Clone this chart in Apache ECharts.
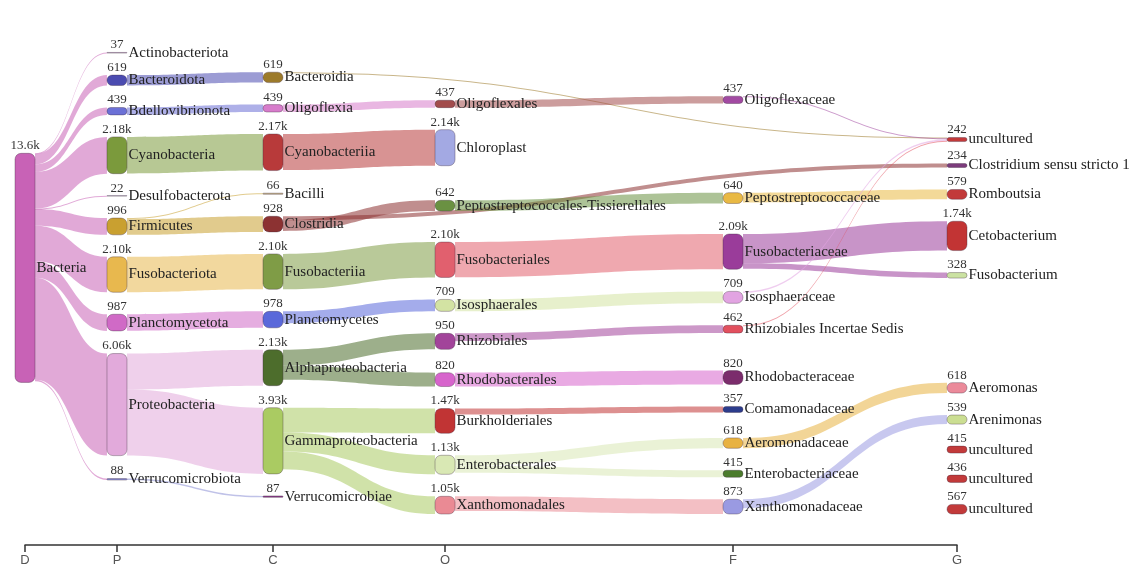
<!DOCTYPE html>
<html>
<head>
<meta charset="utf-8">
<script src="https://cdn.jsdelivr.net/npm/echarts@6/dist/echarts.min.js"></script>
<style>
  html, body { margin: 0; padding: 0; background: #ffffff; }
  #chart { width: 1143px; height: 573px; }
</style>
</head>
<body>
<div id="chart"></div>
<script>
// Taxonomic ranks (columns)
const levels = ['D', 'P', 'C', 'O', 'F', 'G'];

// Nodes, column by column, top to bottom
const nodeNames = [
  'Bacteria',
  'Actinobacteriota', 'Bacteroidota', 'Bdellovibrionota', 'Cyanobacteria', 'Desulfobacterota',
  'Firmicutes', 'Fusobacteriota', 'Planctomycetota', 'Proteobacteria', 'Verrucomicrobiota',
  'Bacteroidia', 'Oligoflexia', 'Cyanobacteriia', 'Bacilli', 'Clostridia',
  'Fusobacteriia', 'Planctomycetes', 'Alphaproteobacteria', 'Gammaproteobacteria', 'Verrucomicrobiae',
  'Oligoflexales', 'Chloroplast', 'Peptostreptococcales-Tissierellales', 'Fusobacteriales', 'Isosphaerales',
  'Rhizobiales', 'Rhodobacterales', 'Burkholderiales', 'Enterobacterales', 'Xanthomonadales',
  'Oligoflexaceae', 'Peptostreptococcaceae', 'Fusobacteriaceae', 'Isosphaeraceae', 'Rhizobiales Incertae Sedis',
  'Rhodobacteraceae', 'Comamonadaceae', 'Aeromonadaceae', 'Enterobacteriaceae', 'Xanthomonadaceae',
  'uncultured', 'Clostridium sensu stricto 1', 'Romboutsia', 'Cetobacterium', 'Fusobacterium',
  'Aeromonas', 'Arenimonas', 'uncultured', 'uncultured', 'uncultured'
];
const nodeDepths = [
  0,
  1, 1, 1, 1, 1, 1, 1, 1, 1, 1,
  2, 2, 2, 2, 2, 2, 2, 2, 2, 2,
  3, 3, 3, 3, 3, 3, 3, 3, 3, 3,
  4, 4, 4, 4, 4, 4, 4, 4, 4, 4,
  5, 5, 5, 5, 5, 5, 5, 5, 5, 5
];
const nodeValues = [
  13600,
  37, 619, 439, 2184, 22, 996, 2104, 987, 6060, 88,
  619, 439, 2170, 66, 928, 2100, 978, 2130, 3930, 87,
  437, 2140, 642, 2100, 709, 950, 820, 1470, 1130, 1050,
  437, 640, 2090, 709, 462, 820, 357, 618, 415, 873,
  242, 234, 579, 1740, 328, 618, 539, 415, 436, 567
];

// Flows between ranks
const linkSources = [
  'Bacteria', 'Bacteria', 'Bacteria', 'Bacteria', 'Bacteria', 'Bacteria', 'Bacteria', 'Bacteria', 'Bacteria', 'Bacteria',
  'Bacteroidota', 'Bdellovibrionota', 'Cyanobacteria', 'Firmicutes', 'Firmicutes', 'Fusobacteriota',
  'Planctomycetota', 'Proteobacteria', 'Proteobacteria', 'Verrucomicrobiota',
  'Bacteroidia', 'Oligoflexia', 'Cyanobacteriia', 'Clostridia', 'Clostridia', 'Fusobacteriia', 'Planctomycetes',
  'Alphaproteobacteria', 'Alphaproteobacteria', 'Gammaproteobacteria', 'Gammaproteobacteria', 'Gammaproteobacteria',
  'Oligoflexales', 'Peptostreptococcales-Tissierellales', 'Fusobacteriales', 'Isosphaerales', 'Rhizobiales',
  'Rhodobacterales', 'Burkholderiales', 'Enterobacterales', 'Enterobacterales', 'Xanthomonadales',
  'Oligoflexaceae', 'Peptostreptococcaceae', 'Fusobacteriaceae', 'Fusobacteriaceae', 'Isosphaeraceae',
  'Rhizobiales Incertae Sedis', 'Aeromonadaceae', 'Xanthomonadaceae'
];
const linkTargets = [
  'Actinobacteriota', 'Bacteroidota', 'Bdellovibrionota', 'Cyanobacteria', 'Desulfobacterota', 'Firmicutes',
  'Fusobacteriota', 'Planctomycetota', 'Proteobacteria', 'Verrucomicrobiota',
  'Bacteroidia', 'Oligoflexia', 'Cyanobacteriia', 'Bacilli', 'Clostridia', 'Fusobacteriia',
  'Planctomycetes', 'Alphaproteobacteria', 'Gammaproteobacteria', 'Verrucomicrobiae',
  'uncultured', 'Oligoflexales', 'Chloroplast', 'Peptostreptococcales-Tissierellales', 'Clostridium sensu stricto 1',
  'Fusobacteriales', 'Isosphaerales',
  'Rhizobiales', 'Rhodobacterales', 'Burkholderiales', 'Enterobacterales', 'Xanthomonadales',
  'Oligoflexaceae', 'Peptostreptococcaceae', 'Fusobacteriaceae', 'Isosphaeraceae', 'Rhizobiales Incertae Sedis',
  'Rhodobacteraceae', 'Comamonadaceae', 'Aeromonadaceae', 'Enterobacteriaceae', 'Xanthomonadaceae',
  'uncultured', 'Romboutsia', 'Cetobacterium', 'Fusobacterium', 'uncultured',
  'uncultured', 'Aeromonas', 'Arenimonas'
];
const linkValues = [
  37, 619, 439, 2184, 22, 996, 2104, 987, 6060, 88,
  619, 439, 2170, 66, 928, 2100,
  978, 2130, 3930, 87,
  40, 437, 2140, 642, 234, 2100, 709,
  950, 820, 1470, 1130, 1050,
  437, 640, 2090, 709, 462,
  820, 357, 618, 415, 873,
  62, 579, 1740, 328, 90,
  50, 618, 539
];

// Node fill colours (same order as nodeNames)
const nodeColors = [
  '#c862b6',
  '#d9b6e0', '#4b4bb0', '#6b70d6', '#7b9a3c', '#b8a8dc', '#c9a030', '#e8b84e', '#d06ac6', '#e2aadb', '#8c8fd6',
  '#9c7a2a', '#d77ccb', '#b83a3a', '#c9b27a', '#8c3232', '#7f9c46', '#5a68da', '#4d6d2c', '#aacb62', '#8d3c8a',
  '#a24c4c', '#a3a9e3', '#6a9142', '#e1606e', '#d3e3a3', '#a2449a', '#d764cc', '#c13434', '#d9e8b4', '#ea8a94',
  '#a24aa2', '#e9b944', '#9a3c9a', '#e2a4e2', '#e2505e', '#7b2c6c', '#2c3c8c', '#e8b242', '#4b7c2c', '#9a9ae2',
  '#c23a3a', '#7c3c7c', '#c23a3a', '#c23434', '#cbe2a2', '#eb8a9a', '#cbde92', '#c23a3a', '#c23a3a', '#c23a3a'
];

// Horizontal placement of each rank column, as a fraction of the diagram width
const columnFrac = [0, 0.0966, 0.2605, 0.4412, 0.7437, 0.979];

const SANKEY_LEFT = 15, SANKEY_RIGHT = 176, SANKEY_TOP = 16, SANKEY_BOTTOM = 59;
// NODE_GAP sets the value-to-height scale; NODE_SPACING is the smallest gap kept between nodes
const NODE_W = 20, NODE_GAP = 30, NODE_SPACING = 22, RELAX_ITERATIONS = 6;
const sankeyWidth = 1143 - SANKEY_LEFT - SANKEY_RIGHT;
const sankeyHeight = 573 - SANKEY_TOP - SANKEY_BOTTOM;

function fmtValue(v) {
  if (v >= 10000) return (v / 1000).toFixed(1) + 'k';
  if (v >= 1000) return (v / 1000).toFixed(2) + 'k';
  return String(v);
}

// Unique keys for nodes that share a display name
const seen = {};
const nodeKeys = nodeNames.map(function (n) {
  seen[n] = (seen[n] || 0) + 1;
  return seen[n] > 1 ? n + '#' + seen[n] : n;
});

// Order-preserving vertical layout: nodes keep their listed order inside each
// column and are relaxed towards the flows they are connected to.
function orderedLayout(H, scaleGap, gap, iterations) {
  const idx = {};
  nodeKeys.forEach(function (k, i) { idx[k] = i; });
  const links = linkSources.map(function (s, i) {
    return { s: idx[s], t: idx[linkTargets[i]], v: linkValues[i] };
  });
  const outL = nodeKeys.map(function () { return []; });
  const inL = nodeKeys.map(function () { return []; });
  links.forEach(function (l) { outL[l.s].push(l); inL[l.t].push(l); });
  const sumV = function (arr) { return arr.reduce(function (a, l) { return a + l.v; }, 0); };
  const val = nodeValues.map(function (v, i) { return Math.max(v, sumV(outL[i]), sumV(inL[i])); });
  const cols = levels.map(function (_, d) {
    const c = [];
    nodeDepths.forEach(function (dd, i) { if (dd === d) c.push(i); });
    return c;
  });
  // same value-to-pixel scale the sankey series uses
  const ky = Math.min.apply(null, cols.map(function (c) {
    return (H - (c.length - 1) * scaleGap) / c.reduce(function (a, i) { return a + val[i]; }, 0);
  }));
  links.forEach(function (l) { l.w = l.v * ky; });
  const y0 = [], y1 = [];
  cols.forEach(function (c) {
    let y = 0;
    c.forEach(function (i) { y0[i] = y; y1[i] = y + val[i] * ky; y = y1[i] + gap; });
    const extra = (H - y + gap) / (c.length + 1);
    c.forEach(function (i, k) { y0[i] += extra * (k + 1); y1[i] += extra * (k + 1); });
  });
  function reorderAll() {
    nodeKeys.forEach(function (_, i) {
      outL[i].sort(function (a, b) { return y0[a.t] - y0[b.t]; });
      inL[i].sort(function (a, b) { return y0[a.s] - y0[b.s]; });
    });
  }
  function targetTop(s, t) {
    let y = y0[s] - (outL[s].length - 1) * gap / 2;
    for (const l of outL[s]) { if (l.t === t) break; y += l.w + gap; }
    for (const l of inL[t]) { if (l.s === s) break; y -= l.w; }
    return y;
  }
  function sourceTop(s, t) {
    let y = y0[t] - (inL[t].length - 1) * gap / 2;
    for (const l of inL[t]) { if (l.s === s) break; y += l.w + gap; }
    for (const l of outL[s]) { if (l.t === t) break; y -= l.w; }
    return y;
  }
  function shift(i, dy) { y0[i] += dy; y1[i] += dy; }
  function topToBottom(c, y, k, a) {
    for (; k < c.length; ++k) {
      const i = c[k];
      const dy = (y - y0[i]) * a;
      if (dy > 1e-6) shift(i, dy);
      y = y1[i] + gap;
    }
  }
  function bottomToTop(c, y, k, a) {
    for (; k >= 0; --k) {
      const i = c[k];
      const dy = (y1[i] - y) * a;
      if (dy > 1e-6) shift(i, -dy);
      y = y0[i] - gap;
    }
  }
  function resolve(c, a) {
    const m = c.length >> 1;
    const subj = c[m];
    bottomToTop(c, y0[subj] - gap, m - 1, a);
    topToBottom(c, y1[subj] + gap, m + 1, a);
    bottomToTop(c, H, c.length - 1, a);
    topToBottom(c, 0, 0, a);
  }
  reorderAll();
  for (let it = 0; it < iterations; ++it) {
    const alpha = Math.pow(0.99, it);
    const beta = Math.max(1 - alpha, (it + 1) / iterations);
    for (let d = cols.length - 2; d >= 0; --d) {
      cols[d].forEach(function (s) {
        let y = 0, w = 0;
        outL[s].forEach(function (l) {
          const v = l.v * (nodeDepths[l.t] - nodeDepths[s]);
          y += sourceTop(s, l.t) * v; w += v;
        });
        if (w > 0) shift(s, (y / w - y0[s]) * alpha);
      });
      reorderAll();
      resolve(cols[d], beta);
    }
    for (let d = 1; d < cols.length; ++d) {
      cols[d].forEach(function (t) {
        let y = 0, w = 0;
        inL[t].forEach(function (l) {
          const v = l.v * (nodeDepths[t] - nodeDepths[l.s]);
          y += targetTop(l.s, t) * v; w += v;
        });
        if (w > 0) shift(t, (y / w - y0[t]) * alpha);
      });
      reorderAll();
      resolve(cols[d], beta);
    }
  }
  return y0.map(function (y) { return y / H; });
}

const localY = orderedLayout(sankeyHeight, NODE_GAP, NODE_SPACING, RELAX_ITERATIONS);

function buildNodes(hidden) {
  return nodeNames.map(function (name, i) {
    return {
      id: nodeKeys[i],
      name: name,
      value: nodeValues[i],
      depth: nodeDepths[i],
      localX: columnFrac[nodeDepths[i]],
      localY: localY[i],
      itemStyle: {
        color: nodeColors[i],
        borderColor: 'rgba(60,40,60,0.35)',
        borderWidth: hidden ? 0 : 1,
        borderRadius: 6,
        opacity: hidden ? 0 : 1
      }
    };
  });
}
function buildLinks() {
  return linkSources.map(function (s, i) {
    return { source: s, target: linkTargets[i], value: linkValues[i] };
  });
}

const common = {
  type: 'sankey',
  left: SANKEY_LEFT, right: SANKEY_RIGHT, top: SANKEY_TOP, bottom: SANKEY_BOTTOM,
  nodeWidth: NODE_W,
  nodeGap: NODE_GAP,
  // keep the listed order inside each column (flows stack in that order too)
  layoutIterations: 0,
  draggable: false,
  emphasis: { disabled: true }
};

// Rank axis: ticks sit under the column centres
const rankTicks = columnFrac.map(function (f) { return f * sankeyWidth; });
const axisSpan = rankTicks[rankTicks.length - 1];

const chart = echarts.init(document.getElementById('chart'), null, { renderer: 'canvas' });
chart.setOption({
  backgroundColor: '#ffffff',
  animation: false,
  grid: { left: SANKEY_LEFT + NODE_W / 2, width: axisSpan, top: 535, height: 10 },
  xAxis: {
    type: 'value', min: 0, max: axisSpan,
    axisLine: { show: true, lineStyle: { color: '#333', width: 1.5 } },
    axisTick: { show: true, customValues: rankTicks, length: 7, lineStyle: { color: '#333', width: 1.5 } },
    axisLabel: {
      customValues: rankTicks,
      margin: 9,
      fontFamily: 'Liberation Sans', fontSize: 13, color: '#555',
      showMinLabel: true, showMaxLabel: true,
      formatter: function (v) {
        for (let i = 0; i < rankTicks.length; i++) {
          if (Math.abs(rankTicks[i] - v) < 0.5) return levels[i];
        }
        return '';
      }
    },
    splitLine: { show: false }
  },
  yAxis: { type: 'value', show: false },
  series: [
    Object.assign({}, common, {
      data: buildNodes(false),
      links: buildLinks(),
      lineStyle: { color: 'source', opacity: 0.55, curveness: 0.5 },
      label: {
        position: 'right', distance: 1,
        fontFamily: 'Liberation Serif', fontSize: 15, color: '#222',
        formatter: function (p) { return p.name; }
      }
    }),
    Object.assign({}, common, {
      silent: true,
      data: buildNodes(true),
      links: buildLinks(),
      lineStyle: { opacity: 0 },
      label: {
        position: 'top', distance: 1,
        fontFamily: 'Liberation Serif', fontSize: 13, color: '#333',
        formatter: function (p) { return fmtValue(p.value); }
      }
    })
  ]
});
</script>
</body>
</html>
